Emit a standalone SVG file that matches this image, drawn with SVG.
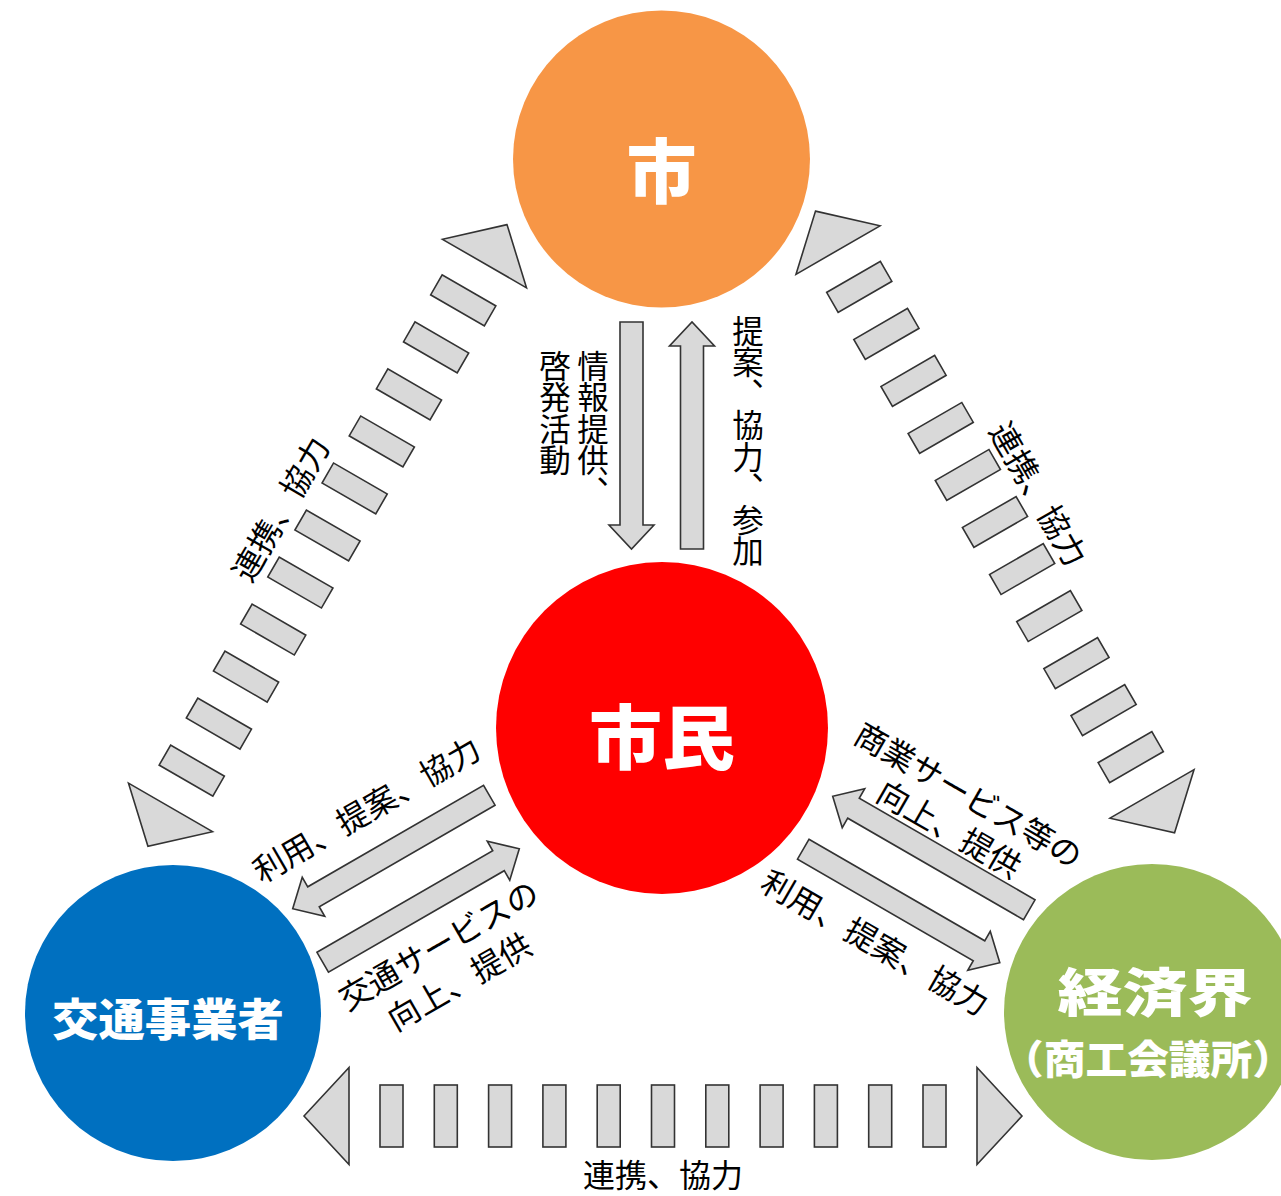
<svg xmlns="http://www.w3.org/2000/svg" xmlns:xlink="http://www.w3.org/1999/xlink" width="1281" height="1196" viewBox="0 0 1281 1196">
<style>
.shape{fill:#D9D9D9;stroke:#333333;stroke-width:1.6;stroke-linejoin:miter}
.lbl{font-family:"Noto Sans CJK JP","Noto Sans CJK SC",sans-serif;font-size:32px;fill:#000}
.vlbl{font-family:"Noto Sans CJK JP","Noto Sans CJK SC",sans-serif;font-size:31.5px;fill:#000;writing-mode:vertical-rl}
.node{font-family:"Noto Sans CJK JP","Noto Sans CJK SC",sans-serif;font-weight:900;fill:#FFFFFF}
</style>
<defs>
<path id="blk" class="shape" d="M-113.5,-11.5 H89.5 V-22.5 L113.5,0 L89.5,22.5 V11.5 H-113.5 Z"/>
<g id="dash" class="shape">
<path d="M-359,0 L-314,-48.5 L-314,48.5 Z"/>
<path d="M359,0 L314,-48.5 L314,48.5 Z"/>
<rect x="-283" y="-31" width="23" height="62"/>
<rect x="-228.7" y="-31" width="23" height="62"/>
<rect x="-174.4" y="-31" width="23" height="62"/>
<rect x="-120.1" y="-31" width="23" height="62"/>
<rect x="-65.8" y="-31" width="23" height="62"/>
<rect x="-11.5" y="-31" width="23" height="62"/>
<rect x="42.8" y="-31" width="23" height="62"/>
<rect x="97.1" y="-31" width="23" height="62"/>
<rect x="151.4" y="-31" width="23" height="62"/>
<rect x="205.7" y="-31" width="23" height="62"/>
<rect x="260" y="-31" width="23" height="62"/>
</g>
</defs>
<rect width="1281" height="1196" fill="#FFFFFF"/>

<g id="connectors">
<use href="#dash" transform="translate(327.5,535.5) rotate(-60)"/>
<use href="#dash" transform="translate(995,522) rotate(60)"/>
<use href="#dash" transform="translate(663,1116)"/>
<use href="#blk" transform="translate(631.5,435.5) rotate(90)"/>
<use href="#blk" transform="translate(692,435.5) rotate(-90)"/>
<use href="#blk" transform="translate(391,852) rotate(150)"/>
<use href="#blk" transform="translate(421,905.5) rotate(-30)"/>
<use href="#blk" transform="translate(931,853) rotate(-150)"/>
<use href="#blk" transform="translate(901.5,906) rotate(30)"/>
<text class="lbl" text-anchor="middle" dominant-baseline="central" transform="translate(279,508) rotate(-60)">連携、協力</text>
<text class="lbl" text-anchor="middle" dominant-baseline="central" transform="translate(1040,493) rotate(60)">連携、協力</text>
<text class="lbl" text-anchor="middle" dominant-baseline="central" font-size="31" transform="translate(663,1173)">連携、協力</text>
<text class="vlbl" x="593" y="350">情報提供、</text>
<text class="vlbl" x="555" y="350">啓発活動</text>
<text class="vlbl" x="748" y="315">提案、協力、参加</text>
<text class="lbl" text-anchor="middle" dominant-baseline="central" transform="translate(365.5,807.8) rotate(-30)">利用、提案、協力</text>
<text class="lbl" text-anchor="middle" dominant-baseline="central" transform="translate(437.5,943.3) rotate(-30)">交通サービスの</text>
<text class="lbl" text-anchor="middle" dominant-baseline="central" transform="translate(458.3,980) rotate(-30)">向上、提供</text>
<text class="lbl" text-anchor="middle" dominant-baseline="central" transform="translate(969.5,793.5) rotate(30)">商業サービス等の</text>
<text class="lbl" text-anchor="middle" dominant-baseline="central" transform="translate(950.3,827.5) rotate(30)">向上、提供</text>
<text class="lbl" text-anchor="middle" dominant-baseline="central" transform="translate(876.2,940.8) rotate(30)">利用、提案、協力</text>
</g>

<g id="node-shi">
<circle cx="661.5" cy="159" r="148.5" fill="#F79646"/>
<text class="node" x="661.5" y="167" font-size="70" text-anchor="middle" dominant-baseline="central">市</text>
</g>
<g id="node-shimin">
<circle cx="662" cy="728" r="166" fill="#FF0000"/>
<text class="node" x="662" y="733" font-size="70" text-anchor="middle" dominant-baseline="central" textLength="146" lengthAdjust="spacingAndGlyphs">市民</text>
</g>
<g id="node-kotsu">
<circle cx="173" cy="1013" r="148" fill="#0070C0"/>
<text class="node" x="168" y="1017" font-size="44" text-anchor="middle" dominant-baseline="central" textLength="232" lengthAdjust="spacingAndGlyphs">交通事業者</text>
</g>
<g id="node-keizai">
<circle cx="1152" cy="1012" r="148" fill="#9BBB59"/>
<text class="node" x="1155" y="989" font-size="52" text-anchor="middle" dominant-baseline="central" textLength="195" lengthAdjust="spacingAndGlyphs">経済界</text>
<text class="node" x="1148" y="1057" font-size="40" text-anchor="middle" dominant-baseline="central" textLength="292" lengthAdjust="spacingAndGlyphs">（商工会議所）</text>
</g>
</svg>
